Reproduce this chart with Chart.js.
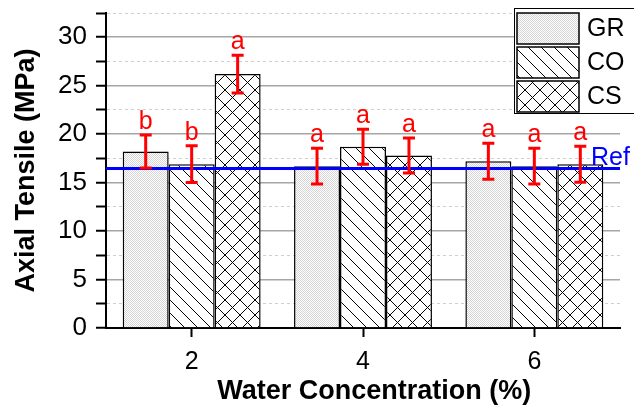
<!DOCTYPE html>
<html>
<head>
<meta charset="utf-8">
<script src="https://cdn.jsdelivr.net/npm/chart.js@4.4.0/dist/chart.umd.min.js"></script>
<style>
  html, body { margin: 0; padding: 0; background: #fff; }
  #wrap { width: 634px; height: 408px; }
</style>
</head>
<body>
<div id="wrap"><canvas id="chart" width="634" height="408"></canvas></div>
<script>
// water concentration groups
const categories = ['2', '4', '6'];
const seriesNames = ['GR', 'CO', 'CS'];

// axial tensile means (MPa)
const grValues = [18.2, 16.7, 17.2];
const coValues = [16.9, 18.7, 16.7];
const csValues = [26.2, 17.8, 16.9];

// standard deviations
const grErrors = [1.7, 1.85, 1.85];
const coErrors = [1.9, 1.8, 1.85];
const csErrors = [1.95, 1.8, 1.85];

// significance letters
const grLetters = ['b', 'a', 'a'];
const coLetters = ['b', 'a', 'a'];
const csLetters = ['a', 'a', 'a'];

const refValue = 16.45;
const refLabel = 'Ref';

const yMin = 0;
const yMax = 32.5;
const yStep = 2.5;
const yLabelStep = 5;

const FONT = '"Liberation Sans", Arial, sans-serif';

function makePattern(kind, size) {
  const c = document.createElement('canvas');
  c.width = size; c.height = size;
  const g = c.getContext('2d');
  g.fillStyle = '#fff';
  g.fillRect(0, 0, size, size);
  if (kind === 'dots') {
    g.fillStyle = '#d4d4d4';
    for (let x = 0; x < size; x++) {
      for (let y = 0; y < size; y++) {
        if ((x + y) % 2 === 0) g.fillRect(x, y, 1, 1);
      }
    }
  } else {
    g.strokeStyle = '#000';
    g.lineWidth = 1;
    g.beginPath();
    g.moveTo(-1, -1); g.lineTo(size + 1, size + 1);
    if (kind === 'cross') {
      g.moveTo(size + 1, -1); g.lineTo(-1, size + 1);
    }
    g.stroke();
  }
  return g.createPattern(c, 'repeat');
}

const fills = [makePattern('dots', 4), makePattern('diag', 13), makePattern('cross', 15)];
const errors = [grErrors, coErrors, csErrors];
const letters = [grLetters, coLetters, csLetters];

const extras = {
  id: 'extras',
  afterDatasetsDraw(chart) {
    const ctx = chart.ctx;
    const area = chart.chartArea;
    const y = chart.scales.y;
    ctx.save();

    // reference line
    const ry = y.getPixelForValue(refValue);
    ctx.strokeStyle = '#0000ff';
    ctx.lineWidth = 3;
    ctx.beginPath();
    ctx.moveTo(area.left, ry);
    ctx.lineTo(area.right, ry);
    ctx.stroke();
    ctx.fillStyle = '#0000ff';
    ctx.font = '25px ' + FONT;
    ctx.textAlign = 'left';
    ctx.textBaseline = 'alphabetic';
    ctx.fillText(refLabel, area.right - 29, ry - 4);

    // error bars + letters
    ctx.strokeStyle = '#ff0000';
    ctx.fillStyle = '#ff0000';
    ctx.lineWidth = 3;
    ctx.textAlign = 'center';
    chart.data.datasets.forEach((ds, i) => {
      chart.getDatasetMeta(i).data.forEach((bar, j) => {
        const v = ds.data[j];
        const e = errors[i][j];
        const top = y.getPixelForValue(v + e);
        const bot = y.getPixelForValue(v - e);
        const x = bar.x;
        ctx.beginPath();
        ctx.moveTo(x, top); ctx.lineTo(x, bot);
        ctx.moveTo(x - 6, top); ctx.lineTo(x + 6, top);
        ctx.moveTo(x - 6, bot); ctx.lineTo(x + 6, bot);
        ctx.stroke();
        ctx.fillText(letters[i][j], x, top - 6);
      });
    });
    ctx.restore();
  },
  afterDraw(chart) {
    // legend box inside plot, top right (right edge runs off the canvas)
    const ctx = chart.ctx;
    const lx = chart.width - 120, ly = 8, lw = 124, lh = 106;
    ctx.save();
    ctx.fillStyle = '#fff';
    ctx.fillRect(lx, ly, lw, lh);
    ctx.strokeStyle = '#000';
    ctx.lineWidth = 1;
    ctx.strokeRect(lx + 0.5, ly + 0.5, lw - 1, lh - 1);
    ctx.font = '25px ' + FONT;
    ctx.textAlign = 'left';
    ctx.textBaseline = 'middle';
    chart.data.datasets.forEach((ds, i) => {
      const sy = ly + 5 + i * 34;
      ctx.fillStyle = ds.backgroundColor;
      ctx.fillRect(lx + 3, sy, 62, 31);
      ctx.lineWidth = 1.5;
      ctx.strokeRect(lx + 3, sy, 62, 31);
      ctx.fillStyle = '#000';
      ctx.fillText(ds.label, lx + 73, sy + 16);
    });
    ctx.restore();
  }
};

new Chart(document.getElementById('chart'), {
  type: 'bar',
  data: {
    labels: categories,
    datasets: [
      { label: seriesNames[0], data: grValues, backgroundColor: fills[0] },
      { label: seriesNames[1], data: coValues, backgroundColor: fills[1] },
      { label: seriesNames[2], data: csValues, backgroundColor: fills[2] },
    ],
  },
  options: {
    responsive: false,
    animation: false,
    devicePixelRatio: 1,
    layout: { padding: { top: 13, right: 14, left: 0, bottom: 0 } },
    datasets: {
      bar: {
        borderColor: '#000',
        borderWidth: 1.5,
        categoryPercentage: 0.805,
        barPercentage: 1.0,
      },
    },
    plugins: {
      legend: { display: false },
      tooltip: { enabled: false },
    },
    scales: {
      x: {
        grid: {
          offset: false,
          drawOnChartArea: false,
          drawTicks: true,
          tickLength: 9,
          tickColor: '#000',
          tickWidth: 2,
        },
        border: { color: '#000', width: 2 },
        ticks: { color: '#000', font: { family: FONT, size: 25 }, padding: 10 },
        title: {
          display: true,
          text: '   Water Concentration (%)',
          color: '#000',
          font: { family: FONT, size: 27, weight: 'bold' },
          padding: { top: 7, bottom: 0 },
        },
        afterFit(scale) { scale.height = 80; },
      },
      y: {
        min: yMin,
        max: yMax,
        grid: {
          color: (c) => (c.tick && c.tick.value % yLabelStep === 0 ? '#a6a6a6' : '#cfcfcf'),
          lineWidth: (c) => (c.tick && c.tick.value % yLabelStep === 0 ? 1.5 : 1),
          tickColor: '#000',
          tickWidth: 2,
          tickLength: 10,
        },
        border: {
          color: '#000',
          width: 2,
          dash: (c) => (c.type === 'tick' && c.tick && c.tick.value % yLabelStep !== 0 ? [3, 3] : []),
        },
        ticks: {
          stepSize: yStep,
          autoSkip: false,
          color: '#000',
          padding: 9,
          font: { family: FONT, size: 26, lineHeight: 1 },
          callback: (v) => (v % yLabelStep === 0 ? v : ''),
        },
        title: {
          display: true,
          text: 'Axial Tensile (MPa)',
          color: '#000',
          font: { family: FONT, size: 27, weight: 'bold' },
          padding: { top: 10, bottom: 0 },
        },
        afterFit(scale) { scale.width = 106; scale.paddingTop = 0; },
      },
    },
  },
  plugins: [extras],
});
</script>
</body>
</html>
